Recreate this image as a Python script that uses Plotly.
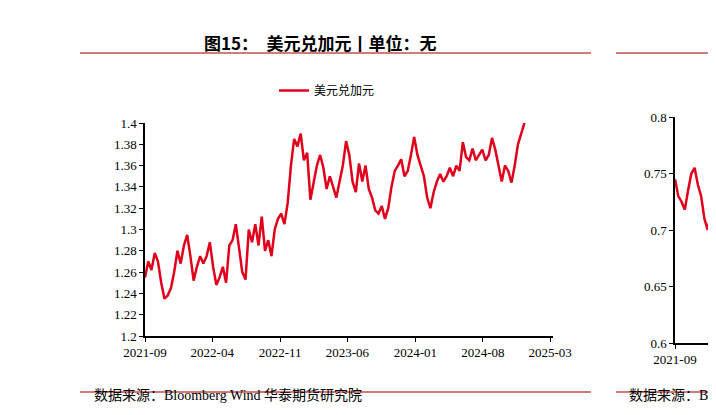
import pandas as pd
import plotly.graph_objects as go

# 美元兑加元 (approximate)
cad_vals = [1.255, 1.27, 1.262, 1.278, 1.27, 1.25, 1.235, 1.238, 1.245, 1.26,
            1.28, 1.268, 1.285, 1.295, 1.275, 1.252, 1.265, 1.275, 1.268, 1.275,
            1.288, 1.265, 1.248, 1.255, 1.265, 1.25, 1.285, 1.29, 1.305, 1.28,
            1.26, 1.253, 1.30, 1.288, 1.305, 1.285, 1.312, 1.28, 1.29, 1.275,
            1.30, 1.31, 1.315, 1.305, 1.325, 1.36, 1.385, 1.378, 1.39, 1.365,
            1.372, 1.328, 1.345, 1.36, 1.37, 1.358, 1.338, 1.35, 1.34, 1.33,
            1.345, 1.36, 1.383, 1.37, 1.345, 1.335, 1.362, 1.345, 1.36, 1.338,
            1.33, 1.318, 1.315, 1.322, 1.31, 1.32, 1.34, 1.355, 1.36, 1.366,
            1.35, 1.355, 1.37, 1.387, 1.37, 1.36, 1.35, 1.33, 1.32, 1.335,
            1.345, 1.352, 1.345, 1.35, 1.358, 1.35, 1.36, 1.355, 1.382, 1.368,
            1.365, 1.376, 1.365, 1.37, 1.375, 1.365, 1.37, 1.386, 1.375, 1.36,
            1.345, 1.36, 1.355, 1.344, 1.36, 1.38, 1.39, 1.40]
cad_dates = pd.date_range("2021-09-01", "2024-12-10", periods=len(cad_vals))

# second panel (partly visible)
aud_vals = [0.745, 0.73, 0.725, 0.718, 0.735, 0.75, 0.755, 0.74, 0.73, 0.71,
            0.70, 0.715, 0.72, 0.725, 0.72, 0.70]
aud_dates = pd.date_range("2021-09-01", "2022-02-01", periods=len(aud_vals))

x_ticks = ["2021-09-01", "2022-04-01", "2022-11-01", "2023-06-01",
           "2024-01-01", "2024-08-01", "2025-03-01"]
x_labels = ["2021-09", "2022-04", "2022-11", "2023-06", "2024-01", "2024-08", "2025-03"]

W, H = 716, 415
RED = "#e0001b"
serif = "Liberation Serif, Noto Sans CJK SC"

def px(x):
    return x / W

def py(y):
    return 1 - y / H

fig = go.Figure()
fig.add_trace(go.Scatter(x=cad_dates, y=cad_vals, mode="lines", name="美元兑加元",
                         line=dict(color=RED, width=2.5), xaxis="x", yaxis="y"))
fig.add_trace(go.Scatter(x=aud_dates, y=aud_vals, mode="lines", showlegend=False,
                         line=dict(color=RED, width=2.5), xaxis="x2", yaxis="y2"))

axis_common = dict(showgrid=False, zeroline=False, showline=True, linecolor="black",
                   linewidth=1.5, ticks="outside", ticklen=4, tickcolor="black",
                   automargin=False,
                   tickfont=dict(family=serif, size=13, color="black"))

fig.update_layout(
    width=W, height=H, margin=dict(l=0, r=0, t=0, b=0, autoexpand=False),
    paper_bgcolor="white", plot_bgcolor="white",
    xaxis=dict(domain=[px(137), px(545)], range=["2021-09-01", "2025-03-10"],
               tickvals=x_ticks, ticktext=x_labels, anchor="y", **axis_common),
    yaxis=dict(domain=[py(328), py(115)], range=[1.2, 1.4], dtick=0.02,
               anchor="x", **axis_common),
    xaxis2=dict(domain=[px(667), 1], range=["2021-09-01", "2022-02-01"],
                tickvals=["2021-09-01", "2022-04-01"], ticktext=["2021-09", "2022-04"],
                anchor="y2", **axis_common),
    yaxis2=dict(domain=[py(335), py(109)], range=[0.6, 0.8], dtick=0.05,
                anchor="x2", **axis_common),
    showlegend=True,
    legend=dict(x=px(266), y=py(68), xanchor="left", yanchor="top",
                orientation="h", font=dict(family="Noto Sans CJK SC", size=12, color="black"),
                bgcolor="rgba(0,0,0,0)"),
    font=dict(family=serif),
)

# header / footer
fig.add_annotation(x=px(312), y=py(20), xref="paper", yref="paper", showarrow=False,
                   text="<b>图15：　美元兑加元丨单位：无</b>",
                   font=dict(family="Noto Sans CJK SC", size=17, color="black"))
fig.add_annotation(x=px(710), y=py(20), xref="paper", yref="paper", showarrow=False,
                   xanchor="left", text="<b>图</b>",
                   font=dict(family="Noto Sans CJK SC", size=17, color="black"))
for x0, x1 in [(72, 583), (608, 716)]:
    for yy in (45, 384):
        fig.add_shape(type="line", xref="paper", yref="paper", x0=px(x0), x1=px(x1),
                      y0=py(yy), y1=py(yy), line=dict(color="#c0504d", width=1.5))
fig.add_annotation(x=px(84), y=py(397), xref="paper", yref="paper", showarrow=False,
                   xanchor="left", text="数据来源：Bloomberg Wind 华泰期货研究院",
                   font=dict(family=serif, size=14, color="black"))
fig.add_annotation(x=px(619), y=py(397), xref="paper", yref="paper", showarrow=False,
                   xanchor="left", text="数据来源：Bloomberg",
                   font=dict(family=serif, size=14, color="black"))

fig.write_html("out.html")
